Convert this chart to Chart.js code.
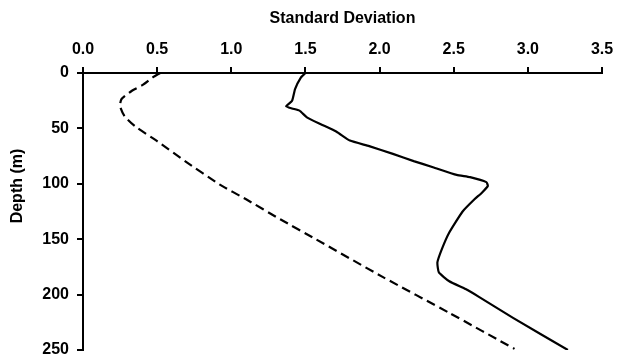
<!DOCTYPE html>
<html>
<head>
<meta charset="utf-8">
<script src="https://cdn.jsdelivr.net/npm/chart.js@4"></script>
<style>
  html, body { margin: 0; padding: 0; background: #fff; }
  #wrap { width: 618px; height: 360px; }
</style>
</head>
<body>
<div id="wrap"><canvas id="sdChart" width="618" height="360"></canvas></div>
<script>
// solid profile
const solidSD = [1.50, 1.47, 1.43, 1.41, 1.37, 1.41, 1.46, 1.51, 1.60, 1.71, 1.80, 1.93, 2.09, 2.23, 2.36, 2.52, 2.61, 2.72, 2.73, 2.69, 2.64, 2.56, 2.47, 2.42, 2.39, 2.40, 2.47, 2.58, 2.67, 2.90, 3.27];
const solidDepth = [0, 4, 14.5, 25, 30, 32, 34, 40, 46, 53, 61, 66, 73, 79.5, 85, 92, 94, 98.5, 102, 108, 114, 125, 144, 159, 171, 180, 188, 195, 202, 221, 250];
// dashed profile
const dashedSD = [0.52, 0.47, 0.40, 0.33, 0.26, 0.25, 0.28, 0.35, 0.50, 0.70, 0.92, 1.10, 1.33, 1.57, 2.02, 2.47, 2.91];
const dashedDepth = [0, 4, 11, 16, 23.5, 30, 39, 48, 61.5, 80.6, 100.5, 114, 132, 150, 184, 216.5, 249];

const sdTicks = [0, 0.5, 1, 1.5, 2, 2.5, 3, 3.5];
const depthTicks = [0, 50, 100, 150, 200, 250];

function toPoints(xs, ys) {
    return xs.map((x, i) => ({ x: x, y: ys[i] }));
}

const font = { family: "'Liberation Sans', Arial, sans-serif", size: 16, weight: "bold" };

// y-axis title sits a bit above the middle of the axis in the original
const depthTitle = {
    id: "depthTitle",
    afterDraw(chart) {
        const c = chart.ctx;
        c.save();
        c.translate(18, 186);
        c.rotate(-Math.PI / 2);
        c.font = "bold 16px 'Liberation Sans', Arial, sans-serif";
        c.fillStyle = "#000";
        c.textAlign = "center";
        c.textBaseline = "middle";
        c.fillText("Depth (m)", 0, 0);
        c.restore();
    }
};

const ctx = document.getElementById("sdChart").getContext("2d");
new Chart(ctx, {
    type: "scatter",
    data: {
        datasets: [{
            label: "solid",
            data: toPoints(solidSD, solidDepth),
            showLine: true,
            borderColor: "#000",
            borderWidth: 2.2,
            pointRadius: 0,
            tension: 0.15
        }, {
            label: "dashed",
            data: toPoints(dashedSD, dashedDepth),
            showLine: true,
            borderColor: "#000",
            borderWidth: 2.2,
            borderDash: [9, 5],
            pointRadius: 0,
            tension: 0.2
        }]
    },
    options: {
        responsive: false,
        animation: false,
        layout: { padding: { left: 0, right: 16, top: 0, bottom: 10 } },
        plugins: { legend: { display: false }, tooltip: { enabled: false } },
        scales: {
            x: {
                type: "linear",
                position: "top",
                min: 0,
                max: 3.5,
                afterBuildTicks: (s) => { s.ticks = sdTicks.map(v => ({ value: v })); },
                afterFit: (s) => { s.height = 73; s.paddingLeft = 0; s.paddingRight = 0; },
                ticks: {
                    color: "#000",
                    font: font,
                    padding: 8,
                    maxRotation: 0,
                    callback: (v) => Number(v).toFixed(1)
                },
                grid: { drawOnChartArea: false, drawTicks: true, tickLength: 6, color: "#000", lineWidth: 2 },
                border: { display: true, color: "#000", width: 2 },
                title: { display: true, text: "Standard Deviation", color: "#000", font: font, padding: { top: 9, bottom: 0 } }
            },
            y: {
                type: "linear",
                reverse: true,
                min: 0,
                max: 250,
                afterBuildTicks: (s) => { s.ticks = depthTicks.map(v => ({ value: v })); },
                afterFit: (s) => { s.width = 83; s.paddingTop = 0; s.paddingBottom = 0; },
                ticks: { color: "#000", font: font, padding: 8 },
                grid: { drawOnChartArea: false, drawTicks: true, tickLength: 6, color: "#000", lineWidth: 2 },
                border: { display: true, color: "#000", width: 2 },
                title: { display: false }
            }
        }
    },
    plugins: [depthTitle]
});
</script>
</body>
</html>
